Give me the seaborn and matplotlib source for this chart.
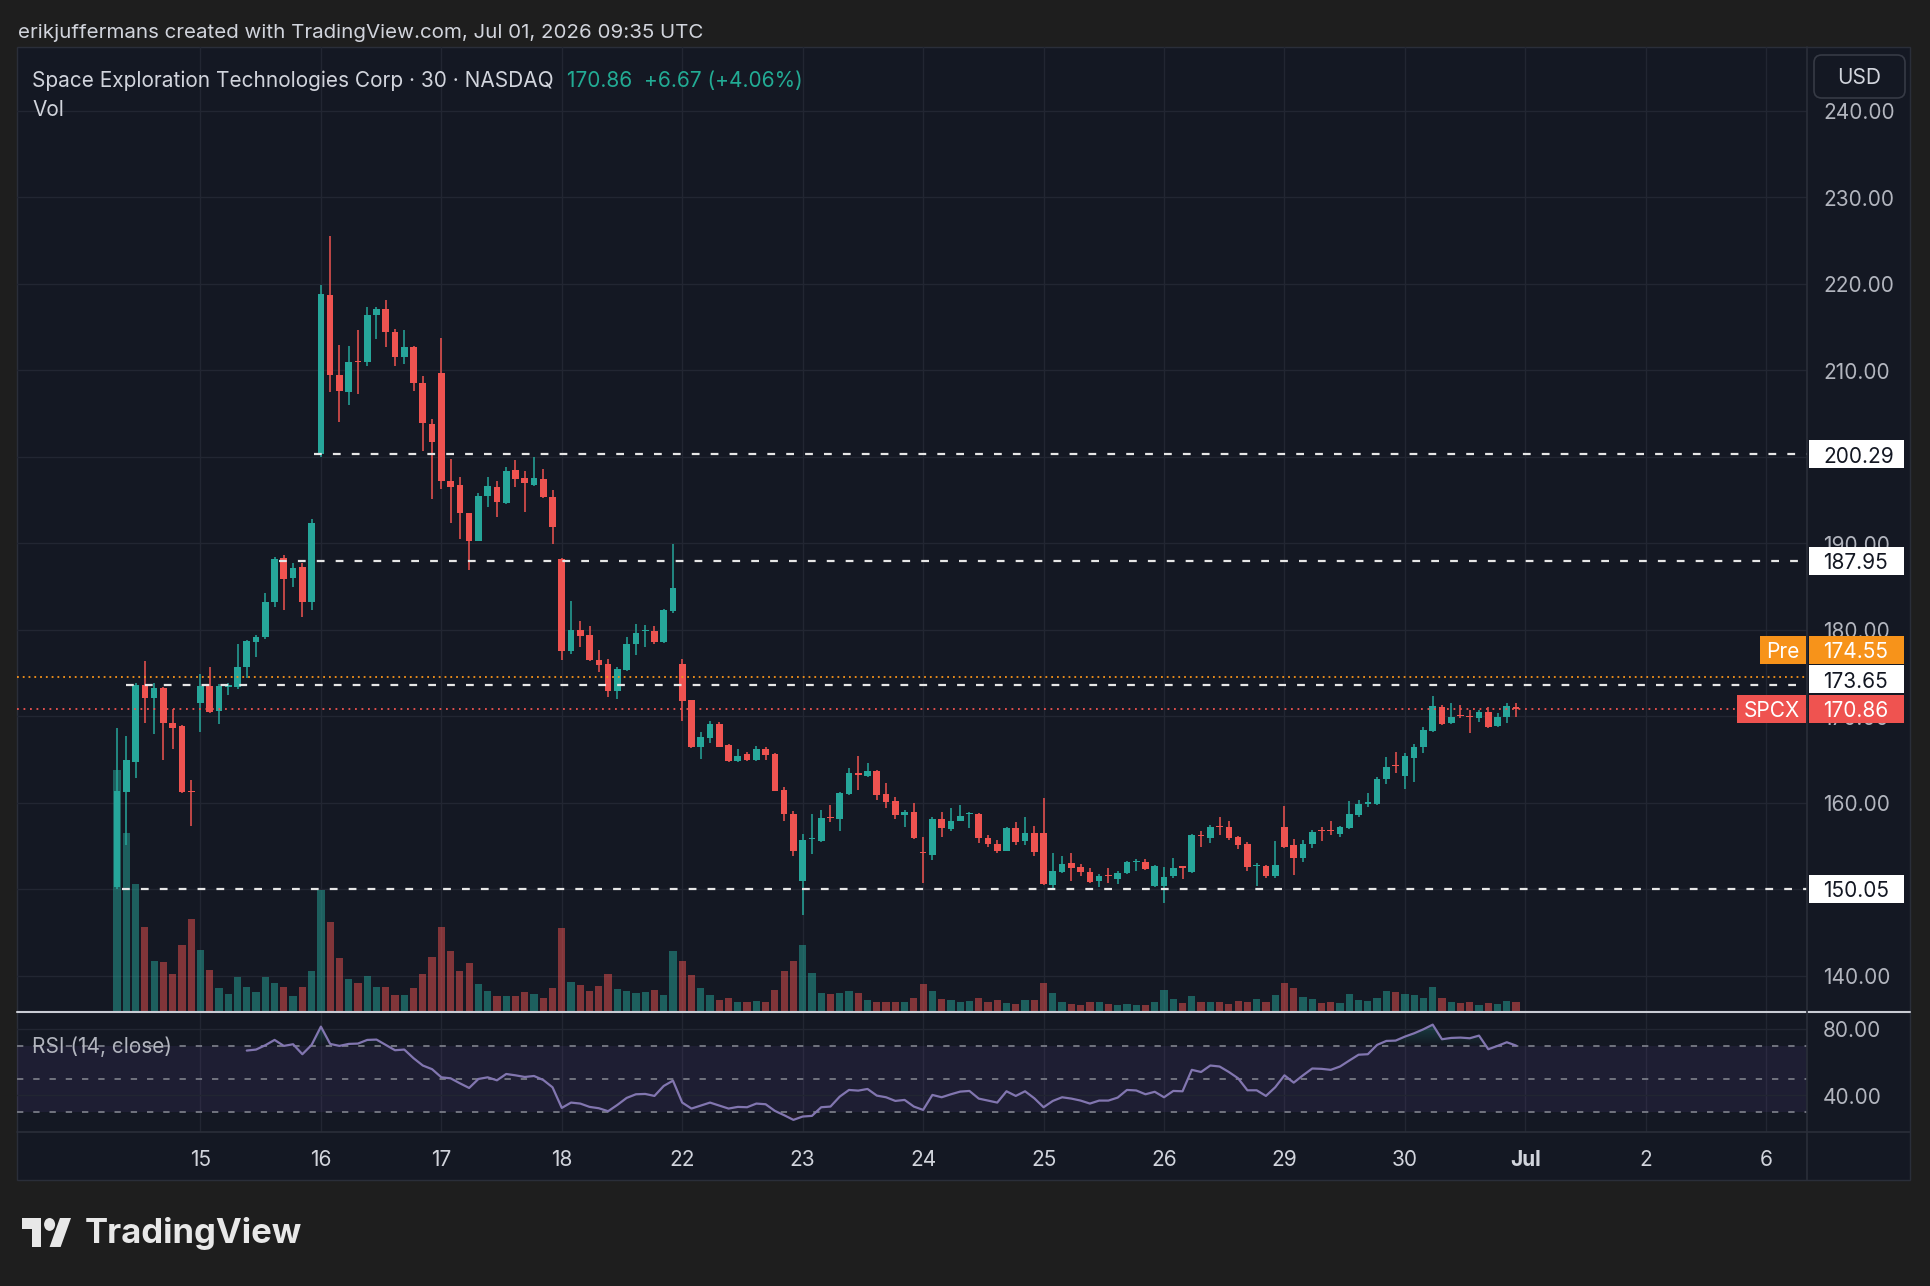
import numpy as np
import matplotlib
matplotlib.use("Agg")
import matplotlib.pyplot as plt
import matplotlib.transforms as mtransforms
from matplotlib.patches import Rectangle, FancyBboxPatch, Polygon, Ellipse
from matplotlib.lines import Line2D
from matplotlib.path import Path
import seaborn as sns

#%% data (30 min bars, NASDAQ session)
day_labels = ['15', '16', '17', '18', '22', '23', '24', '25', '26', '29', '30', 'Jul', '2', '6']
first_day_bars = 9
bars_per_day = 13

opens = [
    150.30, 161.26, 164.73, 173.59, 172.05, 173.20, 169.24, 168.85, 161.40,
    171.55, 173.48, 170.60, 173.40, 173.40, 175.63, 178.60, 179.10, 183.15, 188.24, 185.93, 187.27, 183.23,
    200.29, 218.68, 209.43, 207.50, 211.10, 210.97, 216.37, 217.02, 214.44, 211.47, 212.71, 208.47, 203.77,
    209.62, 197.18, 196.68, 193.44, 190.28, 195.44, 196.52, 194.67, 198.45, 197.56, 196.71, 197.41, 195.37,
    188.12, 177.56, 179.95, 179.37, 176.48, 176.02, 172.94, 175.33, 178.29, 179.80, 179.84, 178.60, 182.15,
    176.02, 171.86, 166.46, 167.43, 169.05, 166.66, 164.81, 165.58, 164.92, 166.16, 165.62, 161.45, 158.68,
    150.97, 155.75, 155.60, 158.30, 158.10, 160.99, 163.40, 163.07, 163.65, 160.99, 160.18, 158.56, 158.95,
    154.30, 153.94, 158.06, 156.91, 157.91, 158.70, 158.68, 155.87, 155.17, 154.44, 157.02, 155.60, 156.52,
    156.44, 150.47, 152.01, 152.98, 152.59, 151.97, 150.94, 151.60, 151.16, 151.82, 153.10, 153.17, 150.35,
    150.39, 151.51, 152.60, 152.01, 156.20, 155.94, 157.35, 157.14, 156.06, 155.17, 152.70, 152.67, 151.51,
    157.14, 155.09, 153.63, 155.17, 156.80, 156.80, 156.37, 157.02, 158.56, 159.90, 159.80, 162.69, 164.30,
    163.07, 165.19, 166.46, 168.31, 171.01, 169.16, 170.10, 170.00, 169.74, 170.51, 168.85, 169.93, 171.09,
]
highs = [
    168.60, 167.70, 173.86, 176.37, 173.86, 173.40, 170.80, 169.00, 162.60,
    174.90, 175.70, 173.70, 173.86, 178.33, 178.80, 179.37, 184.27, 188.43, 188.62, 187.66, 187.66, 192.78,
    219.84, 225.50, 212.90, 212.78, 214.63, 217.25, 217.25, 218.10, 214.71, 214.63, 212.82, 209.32, 204.34,
    213.67, 199.72, 197.68, 193.52, 195.83, 197.60, 197.22, 198.83, 199.60, 198.37, 199.91, 198.56, 196.14,
    188.24, 183.30, 180.99, 180.45, 177.64, 176.60, 175.71, 179.10, 180.64, 180.53, 180.41, 182.42, 189.85,
    176.60, 171.90, 168.12, 169.47, 169.36, 166.77, 166.16, 165.81, 166.54, 166.39, 165.69, 161.76, 159.06,
    156.37, 158.68, 159.14, 159.72, 161.26, 163.96, 165.38, 164.54, 163.77, 162.22, 160.60, 159.14, 159.91,
    155.98, 158.30, 158.87, 159.34, 159.72, 158.95, 158.75, 156.25, 155.67, 157.21, 157.79, 158.37, 157.33,
    160.49, 154.21, 153.82, 154.13, 152.90, 152.40, 151.74, 152.40, 152.09, 153.28, 153.44, 153.44, 152.78,
    152.59, 153.55, 152.67, 156.37, 156.75, 157.41, 158.29, 157.87, 156.10, 155.48, 152.98, 152.78, 155.60,
    159.64, 155.75, 155.67, 156.83, 157.14, 157.91, 157.29, 160.22, 160.30, 161.07, 163.00, 165.23, 165.88,
    165.77, 166.73, 168.70, 172.32, 171.28, 171.47, 171.28, 170.70, 170.70, 171.01, 170.32, 171.55, 171.55,
]
lows = [
    150.05, 155.10, 162.90, 169.24, 167.90, 164.90, 166.19, 161.10, 157.30,
    168.20, 170.40, 169.05, 172.40, 173.09, 174.36, 176.87, 178.87, 182.65, 182.27, 184.96, 181.49, 182.27,
    199.90, 207.50, 204.03, 205.96, 207.23, 210.51, 213.60, 212.71, 210.51, 210.66, 207.62, 200.64, 195.06,
    196.21, 192.36, 190.47, 186.89, 190.20, 194.13, 192.97, 194.52, 196.44, 193.63, 196.60, 195.20, 189.89,
    176.48, 177.18, 177.95, 176.40, 175.13, 172.17, 171.97, 175.20, 177.06, 178.02, 178.33, 178.41, 181.88,
    169.47, 166.27, 165.00, 166.85, 166.39, 164.75, 164.70, 164.85, 164.85, 164.92, 161.30, 157.91, 153.86,
    147.00, 154.06, 155.50, 157.79, 156.75, 160.90, 161.45, 163.00, 160.30, 159.34, 158.06, 157.21, 155.80,
    150.66, 153.36, 155.98, 156.75, 157.85, 157.02, 155.29, 154.90, 154.13, 154.40, 155.10, 155.10, 153.82,
    150.50, 149.97, 151.90, 150.97, 151.51, 150.66, 150.28, 150.66, 150.59, 151.74, 152.13, 152.20, 150.20,
    148.35, 151.24, 151.13, 151.90, 154.90, 155.36, 156.25, 155.67, 154.59, 152.13, 150.36, 151.32, 151.24,
    154.80, 151.63, 153.17, 154.71, 155.60, 156.25, 155.98, 156.91, 158.37, 159.45, 159.70, 162.15, 163.46,
    161.53, 162.34, 165.69, 168.20, 168.97, 169.10, 169.81, 168.00, 169.35, 168.66, 168.80, 169.24, 169.85,
]
closes = [
    161.40, 164.92, 173.59, 172.05, 173.20, 169.16, 168.66, 161.26, 161.20,
    173.48, 170.51, 173.48, 173.60, 175.71, 178.72, 179.10, 183.20, 188.16, 185.81, 187.16, 183.23, 192.28,
    218.80, 209.43, 207.62, 210.97, 210.90, 216.37, 217.06, 214.44, 211.47, 212.71, 208.47, 203.84, 201.72,
    197.18, 196.52, 193.44, 190.28, 195.44, 196.60, 194.79, 198.37, 197.45, 196.91, 197.48, 195.29, 191.82,
    177.56, 179.95, 179.30, 176.48, 175.90, 172.94, 175.40, 178.33, 179.64, 179.90, 178.60, 182.26, 184.85,
    171.78, 166.46, 167.62, 169.05, 166.46, 164.81, 165.42, 164.92, 166.16, 165.50, 161.38, 158.68, 154.44,
    155.67, 155.85, 158.26, 158.20, 161.07, 163.38, 163.20, 163.65, 160.88, 160.11, 158.56, 158.95, 155.87,
    154.20, 158.06, 157.02, 157.91, 158.45, 158.80, 155.87, 155.17, 154.44, 157.02, 155.48, 156.52, 154.33,
    150.59, 152.09, 152.86, 152.40, 151.93, 150.86, 151.51, 151.50, 151.82, 153.17, 153.20, 152.28, 152.66,
    151.43, 152.40, 152.50, 156.25, 156.10, 157.21, 157.20, 155.94, 155.09, 152.51, 152.80, 151.51, 152.78,
    154.90, 153.63, 155.17, 156.64, 156.70, 156.70, 157.14, 158.64, 159.80, 160.00, 162.69, 164.07, 164.19,
    165.38, 166.46, 168.39, 171.16, 169.08, 169.93, 170.00, 169.90, 170.51, 168.77, 169.93, 171.16, 170.86,
]
volume_m = [
    25.1, 18.5, 13.3, 8.8, 5.3, 5.2, 3.9, 6.9, 9.6,
    6.4, 4.4, 2.5, 1.9, 3.6, 2.6, 2.1, 3.6, 3.0, 2.6, 1.7, 2.6, 4.2,
    12.6, 9.3, 5.6, 3.4, 3.0, 3.7, 2.6, 2.6, 1.8, 1.8, 2.5, 3.9, 5.7,
    8.8, 6.3, 4.2, 5.1, 2.9, 2.2, 1.7, 1.7, 1.7, 2.1, 1.9, 1.5, 2.5,
    8.7, 3.1, 2.8, 2.2, 2.7, 3.9, 2.4, 2.2, 2.0, 2.1, 2.3, 1.8, 6.3,
    5.3, 3.8, 2.5, 1.8, 1.2, 1.5, 1.0, 1.0, 1.1, 1.0, 2.3, 4.2, 5.3,
    6.9, 4.0, 2.0, 1.9, 2.0, 2.2, 2.0, 1.2, 1.0, 1.0, 1.0, 1.0, 1.4,
    2.9, 2.2, 1.3, 1.2, 1.0, 1.1, 1.5, 1.0, 1.2, 0.9, 0.8, 1.2, 1.2,
    3.0, 2.0, 1.0, 0.8, 0.7, 1.0, 1.0, 0.8, 0.7, 0.8, 0.7, 0.7, 1.0,
    2.3, 1.3, 0.9, 1.7, 1.0, 1.0, 1.0, 0.8, 1.1, 1.0, 1.3, 1.0, 1.8,
    3.0, 2.5, 1.6, 1.3, 0.9, 1.0, 0.9, 1.9, 1.2, 1.1, 1.5, 2.2, 2.1,
    1.9, 1.8, 1.5, 2.6, 1.5, 1.0, 0.9, 1.0, 0.7, 0.9, 0.8, 1.1, 1.0,
]
rsi_first_bar = 14
rsi_vals = [
    67.0, 67.6, 70.2, 73.4, 69.8, 70.8, 64.8, 70.4,
    81.4, 71.0, 69.8, 71.0, 71.2, 73.4, 73.6, 70.4, 67.2, 67.6, 62.4, 58.0, 55.8,
    50.9, 50.3, 47.3, 44.5, 49.9, 50.9, 49.1, 52.9, 52.1, 51.1, 51.7, 49.3, 44.9,
    32.5, 35.7, 35.1, 33.1, 32.3, 30.5, 34.3, 38.5, 40.7, 40.9, 39.7, 45.7, 48.9,
    35.7, 32.1, 33.9, 35.7, 33.9, 32.1, 33.1, 32.9, 35.1, 34.7, 30.7, 28.1, 25.3,
    27.3, 27.7, 32.9, 33.3, 39.3, 43.3, 42.9, 43.9, 39.9, 38.9, 36.7, 37.3, 33.3,
    31.3, 40.3, 38.9, 40.7, 42.3, 42.7, 38.1, 36.9, 35.7, 42.5, 39.7, 42.5, 38.3,
    32.9, 36.7, 38.9, 38.1, 36.9, 35.1, 36.9, 36.9, 38.7, 43.3, 43.0, 40.7, 42.2,
    38.9, 42.7, 42.5, 55.4, 54.1, 58.0, 57.4, 54.1, 50.3, 43.1, 43.1, 39.7, 44.9,
    52.1, 47.7, 52.1, 56.2, 56.0, 55.4, 57.4, 61.0, 64.5, 64.8, 70.4, 72.8, 73.0,
    75.4, 77.4, 79.8, 82.6, 73.8, 74.6, 74.8, 74.4, 76.0, 67.8, 69.8, 72.0, 70.0,
]

# horizontal rays drawn on the chart (price, bar where the ray starts)
level_prices = [200.29, 187.95, 173.65, 150.05]
level_from_bar = [21.3, 17.5, 1.0, 0.5]
pre_price = 174.55
last_price = 170.86
price_ticks = [140, 150, 160, 170, 180, 190, 200, 210, 220, 230, 240]
rsi_ticks = [80, 40]

header = 'erikjuffermans created with TradingView.com, Jul 01, 2026 09:35 UTC'
title = 'Space Exploration Technologies Corp · 30 · NASDAQ'
quote = '170.86  +6.67 (+4.06%)'

#%% style
W, H, DPI = 1930, 1286, 100
OUTER = '#1e1e1e'
BG = '#141823'
GRID = '#222632'
BORDER = '#2a2e39'
TEAL = '#26a69a'
RED = '#ef5350'
ORANGE = '#f7931a'
TXT = '#d1d4dc'
AXTXT = '#b2b5be'
FS = 15

XMIN, XMAX = -10.8, 182.4
YMIN, YMAX = 135.8, 247.35
PX_PER_USD = 8.65

sns.set_theme(style='dark')
plt.rcParams['font.family'] = ['Inter', 'DejaVu Sans']


def frect(x0, y0, x1, y1):
    return [x0 / W, 1 - y1 / H, (x1 - x0) / W, (y1 - y0) / H]


def fline(x0, y0, x1, y1, color, lw, z=8):
    fig.add_artist(Line2D([x0 / W, x1 / W], [1 - y0 / H, 1 - y1 / H],
                          transform=fig.transFigure, color=color, lw=lw, zorder=z))


fig = plt.figure(figsize=(W / DPI, H / DPI), dpi=DPI, facecolor=OUTER)
fig.add_artist(Rectangle((17 / W, 1 - 1180 / H), (1910 - 17) / W, (1180 - 47) / H,
                         transform=fig.transFigure, facecolor=BG, edgecolor=BORDER,
                         lw=1, zorder=-10))

ax_vol = fig.add_axes(frect(17, 47, 1807, 1012))
ax = fig.add_axes(frect(17, 47, 1807, 1012))
ax_rsi = fig.add_axes(frect(17, 1012, 1807, 1132))
for a in (ax_vol, ax, ax_rsi):
    a.set_facecolor('none')
    for s in a.spines.values():
        s.set_visible(False)
    a.set_xticks([])
    a.set_yticks([])
    a.grid(False)
    a.set_autoscale_on(False)
    a.set_xlim(XMIN, XMAX)
ax.set_ylim(YMIN, YMAX)
ax_vol.set_ylim(0, 100)

o = np.array(opens)
h = np.array(highs)
l = np.array(lows)
c = np.array(closes)
x = np.arange(len(c))
up = c >= o
cols = np.where(up, TEAL, RED)
day_start = [first_day_bars + k * bars_per_day for k in range(len(day_labels))]

#%% grid
for d in day_start:
    ax_vol.axvline(d, color=GRID, lw=1, zorder=0)
    ax_rsi.axvline(d, color=GRID, lw=1, zorder=0)
for p in price_ticks:
    ax_vol.plot([XMIN, XMAX], [p, p], color=GRID, lw=1, zorder=0, transform=ax.transData)

#%% volume + candles
ax_vol.bar(x, volume_m, width=0.78, color=cols, alpha=0.5, linewidth=0, zorder=2)

body_lo = np.minimum(o, c)
body_h = np.maximum(np.abs(c - o), 0.14)
ax.vlines(x, l, h, colors=cols, lw=1.1, zorder=3)
ax.bar(x, body_h, bottom=body_lo, width=0.72, color=cols, linewidth=0, zorder=4)

for p, s in zip(level_prices, level_from_bar):
    ax.hlines(p, s, XMAX, colors='#e6e6e6', linestyles=(0, (3.5, 5.0)), lw=1.6, zorder=5)
ax.axhline(pre_price, color=ORANGE, lw=1.3, ls=(0, (1, 2.2)), zorder=5)
ax.axhline(last_price, color=RED, lw=1.3, ls=(0, (1, 2.6)), zorder=5)

#%% RSI pane
rsi_x = np.arange(rsi_first_bar, rsi_first_bar + len(rsi_vals))
rsi = np.array(rsi_vals)
ax_rsi.axhspan(30, 70, color='#7e57c2', alpha=0.1, lw=0, zorder=0)
for lev in rsi_ticks:
    ax_rsi.axhline(lev, color=GRID, lw=1, zorder=1)
for lev in (70, 50, 30):
    ax_rsi.axhline(lev, color='#787b86', lw=1.3, ls=(0, (3.5, 5.5)), zorder=1)


def grad_fill(a, xs, ys, base, top, color, where):
    poly = a.fill_between(xs, base, ys, where=where, interpolate=True,
                          facecolor='none', edgecolor='none')
    paths = poly.get_paths()
    if not paths:
        return
    rgba = np.zeros((256, 1, 4))
    rgba[..., :3] = matplotlib.colors.to_rgb(color)
    rgba[:, 0, 3] = np.linspace(0, 0.65, 256)
    im = a.imshow(rgba, extent=[xs[0], xs[-1], base, top], origin='lower',
                  aspect='auto', zorder=2, interpolation='bilinear')
    im.set_clip_path(Path.make_compound_path(*paths), transform=a.transData)


grad_fill(ax_rsi, rsi_x, rsi, 70, 100, TEAL, rsi >= 70)
grad_fill(ax_rsi, rsi_x, rsi, 30, 0, RED, rsi <= 30)
sns.lineplot(x=rsi_x, y=rsi, ax=ax_rsi, color='#8276b0', lw=1.6, zorder=4)
ax_rsi.set_xlim(XMIN, XMAX)
ax_rsi.set_ylim(18.0, 90.2)
ax_rsi.set_xlabel('')
ax_rsi.set_ylabel('')
ax_rsi.set_xticks([])
ax_rsi.set_yticks([])

#%% frame lines
fline(17, 1012, 1910, 1012, '#c9ccd4', 1.5)
fline(17, 1132, 1910, 1132, BORDER, 1.2)
fline(1807, 47, 1807, 1180, BORDER, 1.2)

#%% price scale (text nudged a little below centre, like the TV glyph box)
by_main = mtransforms.blended_transform_factory(fig.transFigure, ax.transData)
by_rsi = mtransforms.blended_transform_factory(fig.transFigure, ax_rsi.transData)
by_main_t = mtransforms.offset_copy(by_main, fig=fig, y=-2.5, units='dots')
by_rsi_t = mtransforms.offset_copy(by_rsi, fig=fig, y=-2.5, units='dots')
for p in price_ticks:
    fig.text(1823 / W, p, f'{p:.2f}', transform=by_main_t, ha='left', va='center',
             fontsize=FS, color=AXTXT, zorder=3)
for p in rsi_ticks:
    fig.text(1823 / W, p, f'{p:.2f}', transform=by_rsi_t, ha='left', va='center',
             fontsize=FS, color=AXTXT, zorder=3)

badges = [(p, '#ffffff', '#131722', None) for p in level_prices]
badges.append((pre_price, ORANGE, '#ffffff', 'Pre'))
badges.append((last_price, RED, '#ffffff', 'SPCX'))
badges.sort(key=lambda b: b[0])
hh = 14 / PX_PER_USD
gap = 29.5 / PX_PER_USD
prev = -1e9
tag_w = {'Pre': 46, 'SPCX': 69}
for p, fc, tc, tag in badges:
    yp = max(p, prev + gap)
    prev = yp
    fig.add_artist(Rectangle((1809 / W, yp - hh), (1904 - 1809) / W, 2 * hh,
                             transform=by_main, facecolor=fc, edgecolor='none', zorder=5))
    fig.text(1823 / W, yp, f'{p:.2f}', transform=by_main_t, ha='left', va='center',
             fontsize=FS, color=tc, zorder=6)
    if tag:
        w = tag_w[tag]
        fig.add_artist(Rectangle(((1806 - w) / W, yp - hh), w / W, 2 * hh,
                                 transform=by_main, facecolor=fc, edgecolor='none', zorder=5))
        fig.text((1806 - w / 2) / W, yp, tag, transform=by_main_t, ha='center', va='center',
                 fontsize=FS, color=tc, zorder=6)

fig.add_artist(FancyBboxPatch((1814 / W, 1 - 98 / H), 91 / W, 43 / H,
                              boxstyle='round,pad=0,rounding_size=0.004', mutation_aspect=W / H,
                              transform=fig.transFigure, facecolor=BG, edgecolor='#363a45',
                              lw=1.2, zorder=7))
fig.text(1859 / W, 1 - 78.5 / H, 'USD', ha='center', va='center', fontsize=FS,
         color=TXT, zorder=8)

#%% time scale
bx = mtransforms.blended_transform_factory(ax.transData, fig.transFigure)
for d, lab in zip(day_start, day_labels):
    fig.text(d, 1 - 1159.5 / H, lab, transform=bx, ha='center', va='center', fontsize=FS,
             color=TXT, fontweight='bold' if lab == 'Jul' else 'normal')

#%% texts
fig.text(17.5 / W, 1 - 33 / H, header, ha='left', va='center', fontsize=14.8, color=TXT)
t1 = fig.text(32 / W, 1 - 81 / H, title, ha='left', va='center', fontsize=FS, color=TXT)
rend = fig.canvas.get_renderer()
bb = t1.get_window_extent(renderer=rend)
fig.text((bb.x1 + 13) / W, 1 - 81 / H, quote, ha='left', va='center', fontsize=FS,
         color='#22ab94')
fig.text(32 / W, 1 - 110 / H, 'Vol', ha='left', va='center', fontsize=FS, color=TXT)
fig.text(32 / W, 1 - 1046.5 / H, 'RSI (14, close)', ha='left', va='center', fontsize=15,
         color=AXTXT, zorder=9)

# logo mark
def lp(u, v):
    return ((22 + u * 1.38) / W, 1 - (1218 + (v - 4) * 1.61) / H)


logo_col = '#e8e8e8'
fig.add_artist(Polygon([lp(14, 22), lp(7, 22), lp(7, 11), lp(0, 11), lp(0, 4), lp(14, 4)],
                       closed=True, transform=fig.transFigure, facecolor=logo_col, lw=0))
fig.add_artist(Polygon([lp(28, 22), lp(20, 22), lp(27.5, 4), lp(35.5, 4)],
                       closed=True, transform=fig.transFigure, facecolor=logo_col, lw=0))
cx, cy = lp(20, 8)
fig.add_artist(Ellipse((cx, cy), 8 * 1.38 / W, 8 * 1.61 / H, transform=fig.transFigure,
                       facecolor=logo_col, lw=0))
fig.text(85 / W, 1 - 1234 / H, 'TradingView', ha='left', va='center', fontsize=25,
         fontweight='bold', color=logo_col)

fig.savefig('out.png', dpi=DPI, facecolor=OUTER)
